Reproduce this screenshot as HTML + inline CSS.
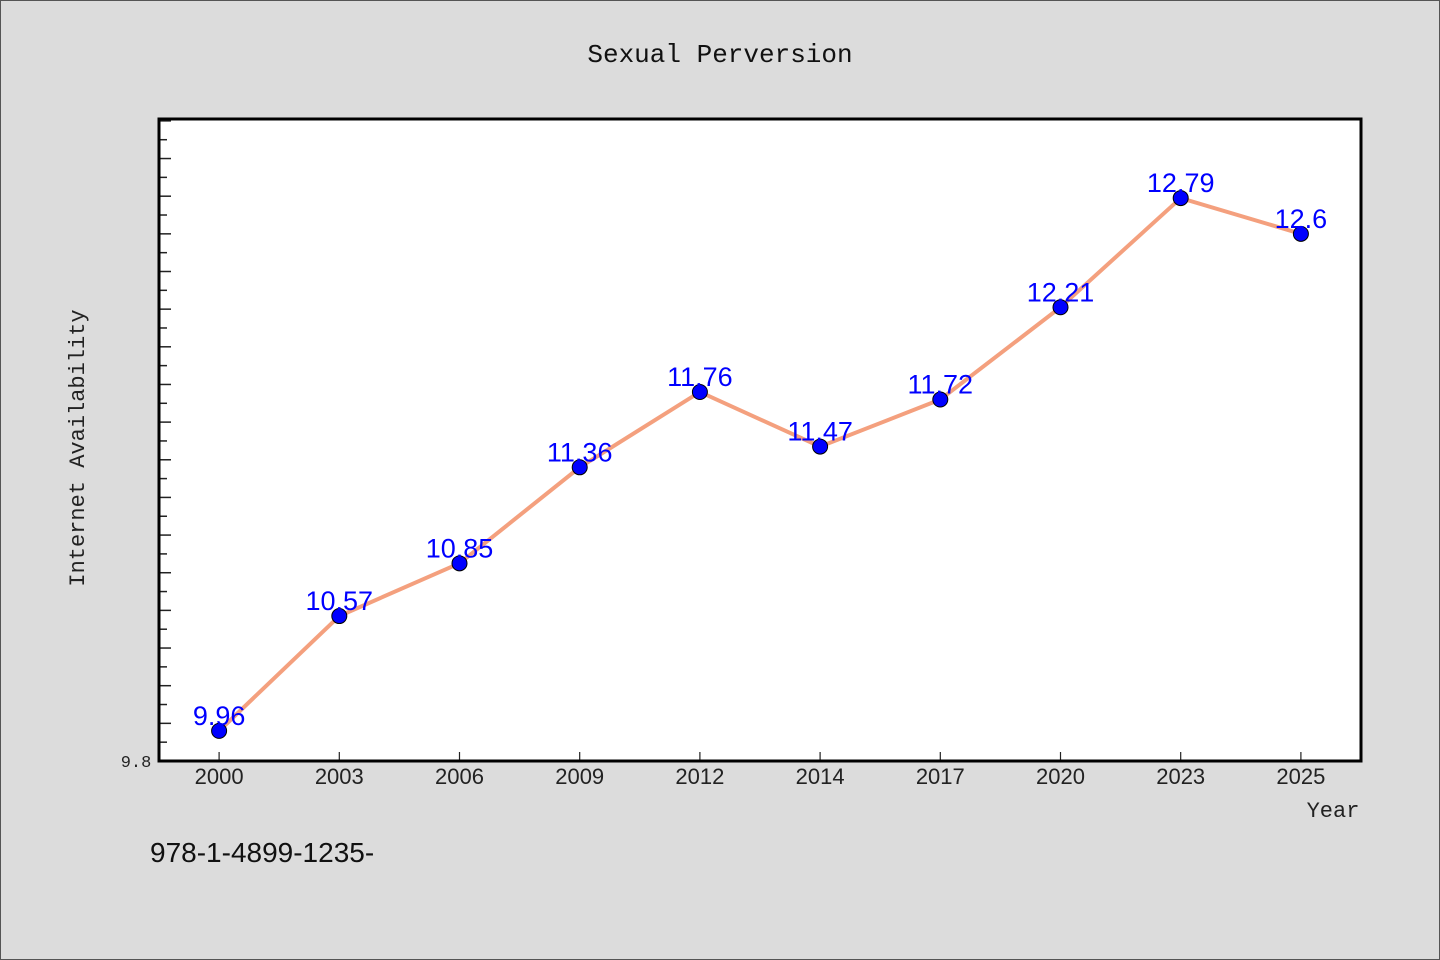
<!DOCTYPE html>
<html><head><meta charset="utf-8"><style>
body{margin:0;background:#dcdcdc;}
svg{display:block;font-family:"Liberation Mono","WenQuanYi Zen Hei",monospace;}
</style></head><body>
<svg width="1440" height="960" xmlns="http://www.w3.org/2000/svg" id="chart">
<rect x="0.5" y="0.5" width="1439" height="959" fill="#dcdcdc" stroke="#555"/>
<text x="720" y="62" text-anchor="middle" font-size="26" fill="#111">Sexual Perversion</text>
<rect x="159" y="119" width="1202" height="642" fill="#fff"/>
<g id="ticks"></g>
<g id="series"></g>
<rect x="159" y="119" width="1202" height="642" fill="none" stroke="#000" stroke-width="3"/>
<text x="136" y="767" text-anchor="middle" font-size="17" fill="#222">9.8</text>
<text transform="translate(84,448) rotate(-90)" text-anchor="middle" font-size="22" fill="#222">Internet Availability</text>
<text x="1333" y="817" text-anchor="middle" font-size="22" fill="#222">Year</text>
<text x="150" y="862" font-family="Liberation Sans, sans-serif" font-size="28" fill="#111">978-1-4899-1235-</text>
</svg>
<script>
const categories=["2000","2003","2006","2009","2012","2014","2017","2020","2023","2025"];
const values=[9.96,10.57,10.85,11.36,11.76,11.47,11.72,12.21,12.79,12.6];
const labels=["9.96","10.57","10.85","11.36","11.76","11.47","11.72","12.21","12.79","12.6"];
const yMin=9.8, yMax=13.21;
const L=159,R=1361,T=119,B=761;
const NS="http://www.w3.org/2000/svg";
function x(i){return L+(R-L)/categories.length*(i+0.5);}
function y(v){return B-(v-yMin)/(yMax-yMin)*(B-T);}
function mk(t,a,p){const e=document.createElementNS(NS,t);for(const k in a)e.setAttribute(k,a[k]);p.appendChild(e);return e;}
const tg=document.getElementById('ticks'),sg=document.getElementById('series');
for(let k=1;;k++){const v=yMin+k*0.1;if(v>yMax)break;const yy=y(v);const len=k%2==0?12:8;
const t=mk('line',{x1:L,x2:L+len,y1:yy,y2:yy,stroke:'#222','stroke-width':1.5},tg);

}
categories.forEach((c,i)=>{
const t=mk('line',{x1:x(i),x2:x(i),y1:B-9,y2:B,stroke:'#222','stroke-width':1.2},tg);


const tx=mk('text',{x:x(i),y:B+23,'text-anchor':'middle','font-size':22,fill:'#222','font-family':'Liberation Sans, sans-serif'},tg);
tx.textContent=c;

});
const pl=mk('polyline',{points:values.map((v,i)=>x(i)+','+y(v)).join(' '),fill:'none',stroke:'#f4a07e','stroke-width':4},sg);


values.forEach((v,i)=>{
const c=mk('circle',{cx:x(i),cy:y(v),r:7.5,fill:'#0000ff',stroke:'#000','stroke-width':1},sg);


const t=mk('text',{x:x(i),y:y(v)-6,'text-anchor':'middle','font-size':27,fill:'#0000ff','font-family':'Liberation Sans, sans-serif'},sg);
t.textContent=labels[i];

});
</script>
</body></html>
